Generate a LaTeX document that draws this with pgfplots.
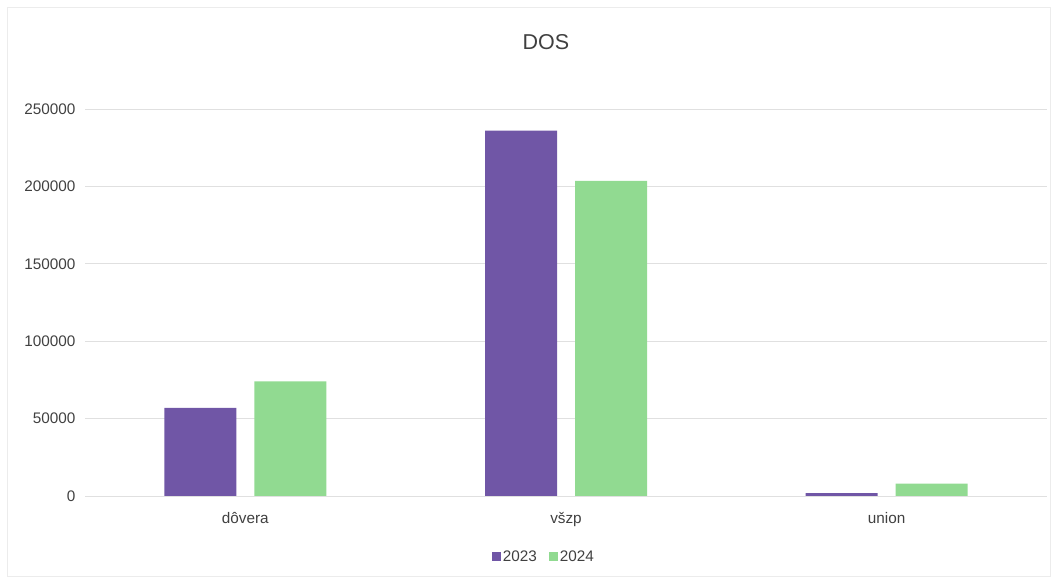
\documentclass[border=0pt]{standalone}
\usepackage{fontspec}
\setmainfont{Liberation Sans}
\usepackage{pgfplots}
\pgfplotsset{compat=1.18}
\definecolor{c23}{RGB}{112,86,166}
\definecolor{c24}{RGB}{145,218,145}
\definecolor{txt}{RGB}{64,64,64}
\definecolor{gridc}{RGB}{224,224,224}
\begin{document}
\begin{tikzpicture}[x=1pt,y=1pt]
\useasboundingbox (-85,-85) rectangle (973,496);
\draw[gridc!60, line width=0.8pt] (-78,-80) rectangle (965,489);
\node[font=\fontsize{21.5}{24}\selectfont, text=txt] at (461,454) {DOS};
\begin{axis}[at={(0,0)}, anchor=south west, scale only axis,
  width=962pt, height=387pt,
  ymin=0, ymax=250000, xmin=-0.5, xmax=2.5,
  ybar=18pt, bar width=72pt,
  axis line style={draw=none},
  ytick={0,50000,100000,150000,200000,250000},
  ymajorgrids, grid style={gridc, line width=0.8pt},
  major tick length=0pt,
  xtick=data, xticklabels={dôvera, všzp, union},
  scaled y ticks=false,
  yticklabel style={/pgf/number format/fixed, /pgf/number format/1000 sep={}, xshift=-6pt},
  xticklabel style={yshift=-13pt},
  /pgf/number format/assume math mode=true,
  tick label style={font=\fontsize{15.3}{17}\selectfont, text=txt},
  legend columns=2,
  legend style={draw=none, at={(0.477,-0.157)}, anchor=center, font=\fontsize{15.3}{17}\selectfont, text=txt,
    /tikz/every even column/.append style={column sep=10pt},
    /tikz/every odd column/.append style={column sep=0pt}},
  legend image code/.code={\fill[#1] (0pt,-4.5pt) rectangle (9pt,4.5pt);},
]
\addplot[fill=c23, draw=none] coordinates {(0,57000) (1,236000) (2,1800)};
\addplot[fill=c24, draw=none] coordinates {(0,74000) (1,203500) (2,8000)};
\legend{2023,2024}
\end{axis}
\end{tikzpicture}
\end{document}
